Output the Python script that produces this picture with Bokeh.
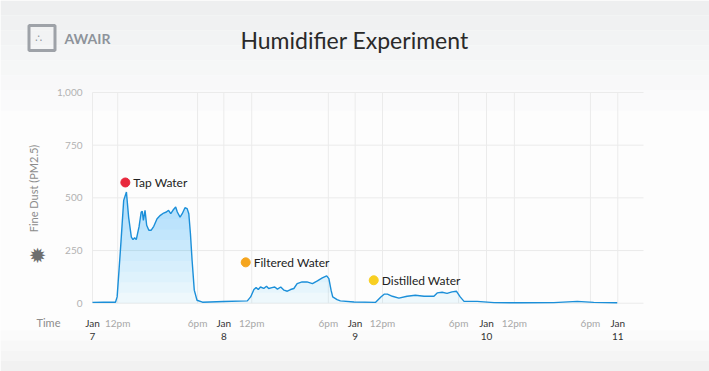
import numpy as np
from bokeh.plotting import figure
from bokeh.models import (Range1d, FixedTicker, Label, NumeralTickFormatter, LinearAxis,
                          BoxAnnotation)
from bokeh.core.properties import value
from bokeh.embed import file_html
from bokeh.resources import INLINE

# ---------------- data ----------------
hours = [0, 2, 4.2, 4.5, 5.1, 5.7, 6.2, 6.6, 7.1, 7.4, 7.7, 8.0, 8.5, 8.9, 9.1, 9.3,
         9.6, 9.9, 10.3, 10.7, 11.2, 11.8, 12.4, 13.0, 13.5, 13.9, 14.3, 14.7, 15.2,
         15.5, 16.0, 16.4, 16.9, 17.3, 17.6, 17.9, 18.2, 18.6, 19.1, 20.1, 24.0, 28.3,
         28.9, 29.5, 29.9, 30.3, 30.7, 31.3, 31.8, 32.2, 32.8, 33.3, 33.8, 34.4, 35.0,
         35.6, 36.2, 36.8, 37.4, 38.3, 39.2, 40.2, 41.1, 42.0, 42.8, 43.2, 43.6, 43.9,
         44.7, 45.3, 47.8, 51.7, 52.7, 53.3, 53.9, 54.8, 56.0, 57.5, 59.0, 60.6, 62.4,
         63.0, 63.9, 64.8, 65.7, 66.5, 67.2, 67.9, 70.3, 73.4, 78.2, 84.3, 88.6, 91.6,
         95.9]
pm25 = [4, 5, 5, 30, 251, 488, 528, 409, 314, 302, 311, 302, 362, 433, 436, 393,
        441, 370, 346, 346, 365, 401, 417, 428, 433, 441, 425, 441, 457,
        433, 409, 425, 453, 449, 425, 330, 204, 62, 14, 5, 8, 11,
        30, 65, 74, 65, 77, 70, 81, 70, 74, 77, 67, 77, 62,
        57, 65, 70, 93, 101, 101, 93, 106, 120, 130, 117, 62, 30,
        17, 11, 6, 4, 30, 43, 43, 33, 24, 33, 38, 33, 33,
        49, 52, 47, 54, 57, 30, 9, 9, 3, 2, 3, 9, 4,
        2]

day_ticks = [0, 24, 48, 72, 96]
day_month = ["Jan", "Jan", "Jan", "Jan", "Jan"]
day_numbers = ["7", "8", "9", "10", "11"]
hour_ticks = [4.6, 19.2, 29.1, 43.1, 53.0, 66.9, 77.1, 91.0]
hour_labels = ["12pm", "6pm", "12pm", "6pm", "12pm", "6pm", "12pm", "6pm"]
y_ticks = [0, 250, 500, 750, 1000]

event_hours = [6.0, 28.0, 51.4]
event_values = [573, 194, 109]
event_names = ["Tap Water", "Filtered Water", "Distilled Water"]
event_colors = ["#e8283c", "#f5a51e", "#f8cf22"]

FONT = "Lato"
W, H = 709, 371
# chart area: x 0..X1 hours drawn on pixels 92..643, y Y0..Y1 on pixels 304..92
X0, X1, Y0, Y1 = 0.0, 100.7, -6.0, 1000.0
CL, CR, CT, CB = 92, 643, 92, 304
kx = (X1 - X0) / (CR - CL)
ky = (Y1 - Y0) / (CB - CT)

p = figure(width=W, height=H, output_backend="svg", toolbar_location=None,
           x_range=Range1d(X0 - CL * kx, X1 + (W - CR) * kx),
           y_range=Range1d(Y0 - (H - CB) * ky, Y1 + CT * ky),
           min_border_left=0, min_border_right=0, min_border_top=0,
           min_border_bottom=0, background_fill_color="#fdfdfd",
           border_fill_color="#fdfdfd", outline_line_color=None)
p.xgrid.visible = False
p.ygrid.visible = False

# page background shading (pixel rows, top to bottom)
bands = [(0, 15, "#eeeff0"), (15, 30, "#f0f1f2"), (30, 45, "#f2f3f4"),
         (45, 60, "#f4f5f6"), (60, 75, "#f6f7f7"), (75, 90, "#f8f8f9"),
         (90, 110, "#fafafb"), (330, 340, "#fbfbfb"), (340, 350, "#f8f8f8"),
         (350, 360, "#f5f5f5"), (360, 371, "#f1f1f1")]
for top, bot, c in bands:
    p.add_layout(BoxAnnotation(left=0, right=W, top=H - top, bottom=H - bot,
                               left_units="screen", right_units="screen",
                               top_units="screen", bottom_units="screen",
                               fill_color=c, fill_alpha=1, line_color=None,
                               level="underlay"))

# grid lines of the chart area, from the tick arrays
all_x_ticks = sorted(day_ticks + hour_ticks)
p.segment(x0=all_x_ticks, y0=0, x1=all_x_ticks, y1=Y1, line_color="#ebebeb", line_width=1)
p.segment(x0=X0, y0=y_ticks, x1=X1, y1=y_ticks, line_color="#ebebeb", line_width=1)


def style_axis(ax, color, standoff):
    ax.axis_line_color = None
    ax.major_tick_line_color = None
    ax.minor_tick_line_color = None
    ax.major_tick_out = 0
    ax.major_tick_in = 0
    ax.minor_tick_out = 0
    ax.major_label_text_color = color
    ax.major_label_text_font = FONT
    ax.major_label_text_font_size = "10px"
    ax.major_label_standoff = standoff


# y axis drawn at the chart's left edge
p.yaxis.ticker = FixedTicker(ticks=y_ticks)
p.yaxis.formatter = NumeralTickFormatter(format="0,0")
p.yaxis.fixed_location = X0
style_axis(p.yaxis[0], "#b2b2b2", 10)

# x axes drawn at the chart's bottom edge: month row, hour row, day-number row
p.xaxis.ticker = FixedTicker(ticks=day_ticks)
p.xaxis.major_label_overrides = dict(zip(day_ticks, day_month))
p.xaxis.fixed_location = Y0
style_axis(p.xaxis[0], "#333333", 12)

ax_hours = LinearAxis(ticker=FixedTicker(ticks=hour_ticks),
                      major_label_overrides=dict(zip(hour_ticks, hour_labels)),
                      fixed_location=Y0)
style_axis(ax_hours, "#a8a8a8", 12)
p.add_layout(ax_hours, "below")

ax_days = LinearAxis(ticker=FixedTicker(ticks=day_ticks),
                     major_label_overrides=dict(zip(day_ticks, day_numbers)),
                     fixed_location=Y0)
style_axis(ax_days, "#333333", 28)
p.add_layout(ax_days, "below")

# gradient-like area fill
pm = np.array(pm25, dtype=float)
p.varea(x=hours, y1=0, y2=pm25, fill_color="#29b6f6", fill_alpha=0.07)
for lvl in range(50, 500, 50):
    p.varea(x=hours, y1=np.minimum(pm, lvl), y2=pm, fill_color="#29b6f6", fill_alpha=0.035)
p.line(hours, pm25, line_color="#1b8fd9", line_width=1.4)

# event markers
p.scatter(event_hours, event_values, size=9, color=event_colors)
p.text(event_hours, event_values, text=event_names, x_offset=8,
       text_baseline="middle", text_font=value(FONT), text_font_size="12px",
       text_color="#222222")


def lab(px, py, text, **kw):
    p.add_layout(Label(x=float(px), y=float(H - py), x_units="screen", y_units="screen",
                       text=text, **kw))


lab(354, 39, "Humidifier Experiment", text_align="center", text_baseline="middle",
    text_font=FONT, text_font_size="23px", text_color="#2a2a2a")
lab(33, 188, "Fine Dust (PM2.5)", angle=float(np.pi / 2), text_align="center",
    text_baseline="middle", text_font=FONT, text_font_size="11px", text_color="#8c8c8c")
lab(48, 322, "Time", text_align="center", text_baseline="middle", text_font=FONT,
    text_font_size="11px", text_color="#8c8c8c")
lab(37, 255, "✹", text_align="center", text_baseline="middle", text_font="DejaVu Sans",
    text_font_size="21px", text_color="#6e6e6e")
lab(64, 38, "AWAIR", text_align="left", text_baseline="middle", text_font=FONT,
    text_font_size="14px", text_font_style="bold", text_color="#8e939b")
lab(41.5, 37.5, " ∴ ", text_align="center", text_baseline="middle", text_font="DejaVu Sans",
    text_font_size="11px", text_color="#8e939b", border_line_color="#9ea2a8",
    border_line_width=3, padding=6)

open("out.html", "w").write(file_html(p, INLINE))
